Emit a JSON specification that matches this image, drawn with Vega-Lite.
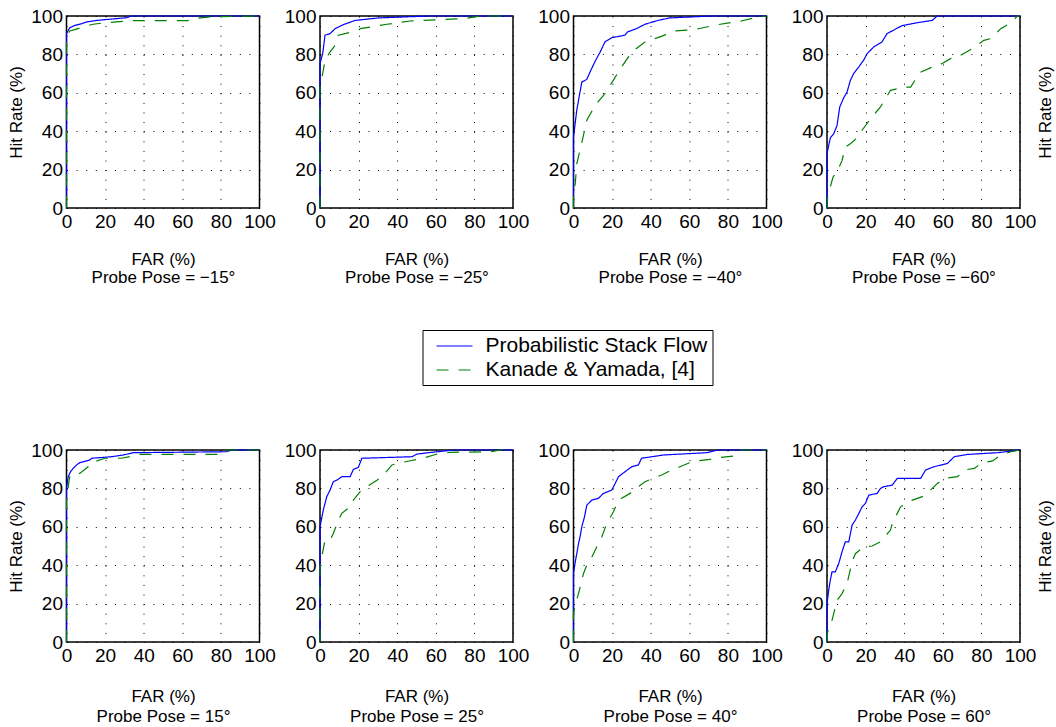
{
"$schema": "https://vega.github.io/schema/vega-lite/v6.json",
"background": "white",
"padding": {"left": 6.5, "top": 6, "right": 0, "bottom": 0},
"config": {
  "font": "Liberation Sans",
  "view": {"stroke": "#000", "strokeWidth": 1.5},
  "axis": {"labelFontSize": 19, "titleFontSize": 17, "titleFontWeight": "normal", "labelColor": "#000", "titleColor": "#000", "domain": false, "ticks": false, "grid": true, "gridColor": "#000", "gridDash": [1, 8.6], "gridWidth": 1, "labelPadding": 4, "labelFlush": false, "labelOverlap": false},
  "axisY": {"titlePadding": 5},
  "axisX": {"titlePadding": 20}
},
"datasets": {
  "methods": [{"m": "P", "method": "Probabilistic Stack Flow"}, {"m": "K", "method": "Kanade & Yamada, [4]"}],
  "roc": [
{"p":-15,"m":"P","far":0,"hit":0},{"p":-15,"m":"P","far":0,"hit":90.8},{"p":-15,"m":"P","far":0.9,"hit":92.5},{"p":-15,"m":"P","far":1.7,"hit":93.9},{"p":-15,"m":"P","far":4.3,"hit":95.1},{"p":-15,"m":"P","far":7.8,"hit":96},{"p":-15,"m":"P","far":10.4,"hit":96.9},{"p":-15,"m":"P","far":15.6,"hit":97.7},{"p":-15,"m":"P","far":31,"hit":99.1},{"p":-15,"m":"P","far":33.7,"hit":100},{"p":-15,"m":"P","far":100,"hit":100},
{"p":-15,"m":"K","far":0,"hit":0},{"p":-15,"m":"K","far":0,"hit":89},{"p":-15,"m":"K","far":1.7,"hit":92.2},{"p":-15,"m":"K","far":4.3,"hit":92.9},{"p":-15,"m":"K","far":9.5,"hit":94.6},{"p":-15,"m":"K","far":13.8,"hit":95.7},{"p":-15,"m":"K","far":19.9,"hit":96.5},{"p":-15,"m":"K","far":34.6,"hit":97.6},{"p":-15,"m":"K","far":63,"hit":97.6},{"p":-15,"m":"K","far":65,"hit":98.6},{"p":-15,"m":"K","far":75,"hit":99.6},{"p":-15,"m":"K","far":100,"hit":100},
{"p":-25,"m":"P","far":0,"hit":0},{"p":-25,"m":"P","far":0,"hit":75.2},{"p":-25,"m":"P","far":1.4,"hit":80.4},{"p":-25,"m":"P","far":2.6,"hit":90},{"p":-25,"m":"P","far":5.2,"hit":90.8},{"p":-25,"m":"P","far":7.8,"hit":93.4},{"p":-25,"m":"P","far":12.1,"hit":95.5},{"p":-25,"m":"P","far":18.2,"hit":97.7},{"p":-25,"m":"P","far":30.3,"hit":99},{"p":-25,"m":"P","far":56.3,"hit":100},{"p":-25,"m":"P","far":100,"hit":100},
{"p":-25,"m":"K","far":0,"hit":0},{"p":-25,"m":"K","far":0,"hit":63},{"p":-25,"m":"K","far":1.7,"hit":71.7},{"p":-25,"m":"K","far":2.6,"hit":77},{"p":-25,"m":"K","far":5.2,"hit":81.3},{"p":-25,"m":"K","far":7.8,"hit":84.7},{"p":-25,"m":"K","far":9.5,"hit":90},{"p":-25,"m":"K","far":19.9,"hit":92.5},{"p":-25,"m":"K","far":20.8,"hit":93.4},{"p":-25,"m":"K","far":34.7,"hit":95.7},{"p":-25,"m":"K","far":46.8,"hit":97.4},{"p":-25,"m":"K","far":74.5,"hit":98.6},{"p":-25,"m":"K","far":83.2,"hit":100},{"p":-25,"m":"K","far":100,"hit":100},
{"p":-40,"m":"P","far":0,"hit":0},{"p":-40,"m":"P","far":0,"hit":37},{"p":-40,"m":"P","far":1.7,"hit":51},{"p":-40,"m":"P","far":4.3,"hit":65.6},{"p":-40,"m":"P","far":6.9,"hit":67},{"p":-40,"m":"P","far":9.1,"hit":72},{"p":-40,"m":"P","far":11.5,"hit":77},{"p":-40,"m":"P","far":13.7,"hit":81},{"p":-40,"m":"P","far":16.3,"hit":86.5},{"p":-40,"m":"P","far":19.8,"hit":88.7},{"p":-40,"m":"P","far":26.6,"hit":90},{"p":-40,"m":"P","far":28,"hit":91.7},{"p":-40,"m":"P","far":32.6,"hit":93.4},{"p":-40,"m":"P","far":37,"hit":95.7},{"p":-40,"m":"P","far":43.8,"hit":97.7},{"p":-40,"m":"P","far":49.8,"hit":99},{"p":-40,"m":"P","far":71.3,"hit":100},{"p":-40,"m":"P","far":100,"hit":100},
{"p":-40,"m":"K","far":0,"hit":0},{"p":-40,"m":"K","far":0,"hit":8},{"p":-40,"m":"K","far":0.9,"hit":12.7},{"p":-40,"m":"K","far":1.7,"hit":23},{"p":-40,"m":"K","far":4.3,"hit":34},{"p":-40,"m":"K","far":6.9,"hit":45.7},{"p":-40,"m":"K","far":11.2,"hit":53.5},{"p":-40,"m":"K","far":16.3,"hit":59.5},{"p":-40,"m":"K","far":20.6,"hit":66.5},{"p":-40,"m":"K","far":24.9,"hit":73.4},{"p":-40,"m":"K","far":30,"hit":81},{"p":-40,"m":"K","far":37,"hit":86.5},{"p":-40,"m":"K","far":45.5,"hit":89.4},{"p":-40,"m":"K","far":52,"hit":92.2},{"p":-40,"m":"K","far":62.5,"hit":92.9},{"p":-40,"m":"K","far":74.7,"hit":95.5},{"p":-40,"m":"K","far":86.9,"hit":97.4},{"p":-40,"m":"K","far":93.6,"hit":99},{"p":-40,"m":"K","far":100,"hit":100},
{"p":-60,"m":"P","far":0,"hit":0},{"p":-60,"m":"P","far":0,"hit":28.3},{"p":-60,"m":"P","far":1.7,"hit":36.5},{"p":-60,"m":"P","far":3.5,"hit":38.7},{"p":-60,"m":"P","far":5.2,"hit":43},{"p":-60,"m":"P","far":6.6,"hit":52.6},{"p":-60,"m":"P","far":8.7,"hit":57.5},{"p":-60,"m":"P","far":10.4,"hit":60.4},{"p":-60,"m":"P","far":12.1,"hit":66.5},{"p":-60,"m":"P","far":13.8,"hit":70},{"p":-60,"m":"P","far":16.4,"hit":73.4},{"p":-60,"m":"P","far":19,"hit":77},{"p":-60,"m":"P","far":20.8,"hit":80.4},{"p":-60,"m":"P","far":24.2,"hit":83.9},{"p":-60,"m":"P","far":28.5,"hit":86.5},{"p":-60,"m":"P","far":31.1,"hit":90.8},{"p":-60,"m":"P","far":38.9,"hit":95},{"p":-60,"m":"P","far":46.7,"hit":96.5},{"p":-60,"m":"P","far":54.5,"hit":97.7},{"p":-60,"m":"P","far":57.1,"hit":100},{"p":-60,"m":"P","far":100,"hit":100},
{"p":-60,"m":"K","far":0,"hit":0},{"p":-60,"m":"K","far":0.3,"hit":5.7},{"p":-60,"m":"K","far":1.7,"hit":11},{"p":-60,"m":"K","far":3.1,"hit":16},{"p":-60,"m":"K","far":6,"hit":20.5},{"p":-60,"m":"K","far":7.8,"hit":24.8},{"p":-60,"m":"K","far":9.5,"hit":31.8},{"p":-60,"m":"K","far":12.1,"hit":33.5},{"p":-60,"m":"K","far":15.6,"hit":36.5},{"p":-60,"m":"K","far":18.2,"hit":40.5},{"p":-60,"m":"K","far":22.5,"hit":46.5},{"p":-60,"m":"K","far":27.7,"hit":52.6},{"p":-60,"m":"K","far":32.9,"hit":61.3},{"p":-60,"m":"K","far":39.8,"hit":63},{"p":-60,"m":"K","far":43.3,"hit":63},{"p":-60,"m":"K","far":48.4,"hit":70.7},{"p":-60,"m":"K","far":54.5,"hit":73.4},{"p":-60,"m":"K","far":58,"hit":74.3},{"p":-60,"m":"K","far":64,"hit":77.8},{"p":-60,"m":"K","far":67.5,"hit":78.6},{"p":-60,"m":"K","far":75.3,"hit":83},{"p":-60,"m":"K","far":81.3,"hit":87.3},{"p":-60,"m":"K","far":84.8,"hit":88.2},{"p":-60,"m":"K","far":90,"hit":93.4},{"p":-60,"m":"K","far":96,"hit":96.9},{"p":-60,"m":"K","far":98.6,"hit":100},{"p":-60,"m":"K","far":100,"hit":100},
{"p":15,"m":"P","far":0,"hit":0},{"p":15,"m":"P","far":0,"hit":80},{"p":15,"m":"P","far":0.9,"hit":86.1},{"p":15,"m":"P","far":2.1,"hit":88.7},{"p":15,"m":"P","far":3.5,"hit":90.5},{"p":15,"m":"P","far":5.2,"hit":92.2},{"p":15,"m":"P","far":6.9,"hit":93.4},{"p":15,"m":"P","far":12.1,"hit":94.8},{"p":15,"m":"P","far":13,"hit":95.7},{"p":15,"m":"P","far":23.4,"hit":96.5},{"p":15,"m":"P","far":29.4,"hit":97.4},{"p":15,"m":"P","far":34.6,"hit":98.6},{"p":15,"m":"P","far":83,"hit":99.1},{"p":15,"m":"P","far":85.6,"hit":100},{"p":15,"m":"P","far":100,"hit":100},
{"p":15,"m":"K","far":0,"hit":0},{"p":15,"m":"K","far":0,"hit":74.8},{"p":15,"m":"K","far":0.9,"hit":80.9},{"p":15,"m":"K","far":1.7,"hit":86.5},{"p":15,"m":"K","far":4.3,"hit":87.8},{"p":15,"m":"K","far":6.9,"hit":87.8},{"p":15,"m":"K","far":11.2,"hit":91.3},{"p":15,"m":"K","far":13,"hit":93.4},{"p":15,"m":"K","far":19.9,"hit":95.7},{"p":15,"m":"K","far":28.5,"hit":95.7},{"p":15,"m":"K","far":34.6,"hit":96.9},{"p":15,"m":"K","far":37.2,"hit":97.7},{"p":15,"m":"K","far":81.3,"hit":97.7},{"p":15,"m":"K","far":83.9,"hit":100},{"p":15,"m":"K","far":100,"hit":100},
{"p":25,"m":"P","far":0,"hit":0},{"p":25,"m":"P","far":0,"hit":60},{"p":25,"m":"P","far":1.7,"hit":68.7},{"p":25,"m":"P","far":3.5,"hit":75.7},{"p":25,"m":"P","far":5.2,"hit":79.1},{"p":25,"m":"P","far":6.9,"hit":83.5},{"p":25,"m":"P","far":8.7,"hit":84.3},{"p":25,"m":"P","far":11.3,"hit":86.1},{"p":25,"m":"P","far":15.6,"hit":86.1},{"p":25,"m":"P","far":17.3,"hit":89.9},{"p":25,"m":"P","far":19.9,"hit":91},{"p":25,"m":"P","far":21.7,"hit":95.7},{"p":25,"m":"P","far":47.7,"hit":96.5},{"p":25,"m":"P","far":50.3,"hit":97.9},{"p":25,"m":"P","far":56.3,"hit":98.6},{"p":25,"m":"P","far":69.3,"hit":100},{"p":25,"m":"P","far":100,"hit":100},
{"p":25,"m":"K","far":0,"hit":0},{"p":25,"m":"K","far":0,"hit":39},{"p":25,"m":"K","far":0.9,"hit":44.3},{"p":25,"m":"K","far":2.6,"hit":53},{"p":25,"m":"K","far":5.2,"hit":53},{"p":25,"m":"K","far":6.9,"hit":56.5},{"p":25,"m":"K","far":9.5,"hit":63.5},{"p":25,"m":"K","far":11.3,"hit":67},{"p":25,"m":"K","far":15.6,"hit":70.4},{"p":25,"m":"K","far":17.3,"hit":73.9},{"p":25,"m":"K","far":20.8,"hit":78.3},{"p":25,"m":"K","far":24.3,"hit":80.9},{"p":25,"m":"K","far":29.5,"hit":84.3},{"p":25,"m":"K","far":32.1,"hit":86.1},{"p":25,"m":"K","far":37.3,"hit":92.2},{"p":25,"m":"K","far":39.9,"hit":93},{"p":25,"m":"K","far":46.8,"hit":94.4},{"p":25,"m":"K","far":53.7,"hit":95.8},{"p":25,"m":"K","far":60.7,"hit":97.9},{"p":25,"m":"K","far":67.6,"hit":98.8},{"p":25,"m":"K","far":88.4,"hit":99.1},{"p":25,"m":"K","far":93.6,"hit":100},{"p":25,"m":"K","far":100,"hit":100},
{"p":40,"m":"P","far":0,"hit":0},{"p":40,"m":"P","far":0,"hit":35.7},{"p":40,"m":"P","far":0.9,"hit":41.7},{"p":40,"m":"P","far":1.7,"hit":46},{"p":40,"m":"P","far":2.6,"hit":51.3},{"p":40,"m":"P","far":3.4,"hit":54.8},{"p":40,"m":"P","far":4.3,"hit":60},{"p":40,"m":"P","far":5.7,"hit":65.2},{"p":40,"m":"P","far":6.9,"hit":71.3},{"p":40,"m":"P","far":9.5,"hit":73.9},{"p":40,"m":"P","far":12.9,"hit":74.8},{"p":40,"m":"P","far":15.5,"hit":77.4},{"p":40,"m":"P","far":19.8,"hit":79.1},{"p":40,"m":"P","far":21.6,"hit":82.6},{"p":40,"m":"P","far":23.3,"hit":86.1},{"p":40,"m":"P","far":26.7,"hit":88.7},{"p":40,"m":"P","far":30.2,"hit":91.3},{"p":40,"m":"P","far":33.6,"hit":92.2},{"p":40,"m":"P","far":35.3,"hit":95.7},{"p":40,"m":"P","far":46.6,"hit":97.4},{"p":40,"m":"P","far":69,"hit":98.6},{"p":40,"m":"P","far":75,"hit":100},{"p":40,"m":"P","far":100,"hit":100},
{"p":40,"m":"K","far":0,"hit":0},{"p":40,"m":"K","far":0,"hit":14.8},{"p":40,"m":"K","far":0.9,"hit":19.6},{"p":40,"m":"K","far":2.6,"hit":25.2},{"p":40,"m":"K","far":5.2,"hit":35.7},{"p":40,"m":"K","far":6.9,"hit":40},{"p":40,"m":"K","far":9.5,"hit":44.3},{"p":40,"m":"K","far":12.1,"hit":49.6},{"p":40,"m":"K","far":14.7,"hit":54.8},{"p":40,"m":"K","far":17.2,"hit":61.7},{"p":40,"m":"K","far":20.7,"hit":67.8},{"p":40,"m":"K","far":23.3,"hit":73.9},{"p":40,"m":"K","far":29.3,"hit":77.4},{"p":40,"m":"K","far":33.6,"hit":80.9},{"p":40,"m":"K","far":37.1,"hit":83.5},{"p":40,"m":"K","far":45.7,"hit":87},{"p":40,"m":"K","far":50.9,"hit":89.6},{"p":40,"m":"K","far":55.2,"hit":91.3},{"p":40,"m":"K","far":60.3,"hit":93.4},{"p":40,"m":"K","far":64.7,"hit":94.4},{"p":40,"m":"K","far":70.7,"hit":95.1},{"p":40,"m":"K","far":75,"hit":96},{"p":40,"m":"K","far":83.6,"hit":96.9},{"p":40,"m":"K","far":86.2,"hit":100},{"p":40,"m":"K","far":100,"hit":100},
{"p":60,"m":"P","far":0,"hit":0},{"p":60,"m":"P","far":0,"hit":20},{"p":60,"m":"P","far":0.9,"hit":27},{"p":60,"m":"P","far":1.7,"hit":32.2},{"p":60,"m":"P","far":2.6,"hit":36.5},{"p":60,"m":"P","far":4.3,"hit":36.5},{"p":60,"m":"P","far":6.1,"hit":40.9},{"p":60,"m":"P","far":7.8,"hit":47},{"p":60,"m":"P","far":9.5,"hit":52.2},{"p":60,"m":"P","far":11.3,"hit":52.2},{"p":60,"m":"P","far":13,"hit":60.9},{"p":60,"m":"P","far":14.7,"hit":63.5},{"p":60,"m":"P","far":16.5,"hit":67},{"p":60,"m":"P","far":18.2,"hit":70.4},{"p":60,"m":"P","far":19.9,"hit":72.2},{"p":60,"m":"P","far":21.7,"hit":76.5},{"p":60,"m":"P","far":26,"hit":77.4},{"p":60,"m":"P","far":27.7,"hit":80},{"p":60,"m":"P","far":29.5,"hit":80.9},{"p":60,"m":"P","far":33.8,"hit":81.7},{"p":60,"m":"P","far":36.4,"hit":85.2},{"p":60,"m":"P","far":48.5,"hit":85.2},{"p":60,"m":"P","far":51.1,"hit":89.6},{"p":60,"m":"P","far":55.5,"hit":91.3},{"p":60,"m":"P","far":62.4,"hit":93},{"p":60,"m":"P","far":65.9,"hit":96.5},{"p":60,"m":"P","far":72.8,"hit":97.7},{"p":60,"m":"P","far":88.4,"hit":98.6},{"p":60,"m":"P","far":96.2,"hit":99.5},{"p":60,"m":"P","far":98.8,"hit":100},{"p":60,"m":"P","far":100,"hit":100},
{"p":60,"m":"K","far":0,"hit":0},{"p":60,"m":"K","far":0.3,"hit":5.2},{"p":60,"m":"K","far":2.6,"hit":11.3},{"p":60,"m":"K","far":5.2,"hit":21.7},{"p":60,"m":"K","far":7.8,"hit":25.2},{"p":60,"m":"K","far":10.4,"hit":30.4},{"p":60,"m":"K","far":13,"hit":41.7},{"p":60,"m":"K","far":14.7,"hit":46},{"p":60,"m":"K","far":19.1,"hit":49.6},{"p":60,"m":"K","far":23.4,"hit":50},{"p":60,"m":"K","far":27.7,"hit":52.2},{"p":60,"m":"K","far":32.9,"hit":58.3},{"p":60,"m":"K","far":33.8,"hit":61.7},{"p":60,"m":"K","far":38.1,"hit":70.4},{"p":60,"m":"K","far":44.2,"hit":73.9},{"p":60,"m":"K","far":49.4,"hit":75.7},{"p":60,"m":"K","far":54.6,"hit":80},{"p":60,"m":"K","far":57.2,"hit":82.6},{"p":60,"m":"K","far":60.7,"hit":85.2},{"p":60,"m":"K","far":67.6,"hit":86.1},{"p":60,"m":"K","far":71.1,"hit":89.6},{"p":60,"m":"K","far":76.3,"hit":90.4},{"p":60,"m":"K","far":80.6,"hit":93.4},{"p":60,"m":"K","far":85.8,"hit":94.3},{"p":60,"m":"K","far":90.1,"hit":97.4},{"p":60,"m":"K","far":95.3,"hit":99.1},{"p":60,"m":"K","far":99.7,"hit":100},{"p":60,"m":"K","far":100,"hit":100}
  ]
},
"spacing": 434,
"bounds": "flush",
"vconcat": [
 {"hconcat": [
  {"width":193,"height":192,"data":{"name":"roc"},"transform":[{"filter":"datum.p == -15"},{"lookup":"m","from":{"data":{"name":"methods"},"key":"m","fields":["method"]}}],
   "mark":{"type":"line","strokeWidth":1.2},
   "encoding":{
    "x":{"field":"far","type":"quantitative","scale":{"domain":[0,100],"nice":false},"axis":{"values":[0,20,40,60,80,100],"title":["FAR (%)","Probe Pose = −15°"],"titleLineHeight":18}},
    "y":{"field":"hit","type":"quantitative","scale":{"domain":[0,100],"nice":false},"axis":{"values":[0,20,40,60,80,100],"title":"Hit Rate (%)"}},
    "color":{"field":"method","type":"nominal","scale":{"domain":["Probabilistic Stack Flow","Kanade & Yamada, [4]"],"range":["#0000ff","#008000"]},"legend":{"title":null,"orient":"none","legendX":356,"legendY":314,"symbolType":"M-0.2,0H3.4","symbolSize":400,"symbolStrokeWidth":1.2,"labelFontSize":21,"labelOffset":36,"padding":5,"rowPadding":3,"strokeColor":"#000","fillColor":"#fff","labelColor":"#000","labelLimit":400}},
    "strokeDash":{"field":"method","type":"nominal","scale":{"domain":["Probabilistic Stack Flow","Kanade & Yamada, [4]"],"range":[[1,0],[12,10]]},"legend":{"title":null,"orient":"none","legendX":356,"legendY":314,"symbolType":"M-0.2,0H3.4","symbolSize":400,"symbolStrokeWidth":1.2,"labelFontSize":21,"labelOffset":36,"padding":5,"rowPadding":3,"strokeColor":"#000","fillColor":"#fff","labelColor":"#000","labelLimit":400}},
    "order":{"value":null}}},
  {"width":193,"height":192,"data":{"name":"roc"},"transform":[{"filter":"datum.p == -25"},{"lookup":"m","from":{"data":{"name":"methods"},"key":"m","fields":["method"]}}],
   "mark":{"type":"line","strokeWidth":1.2},
   "encoding":{
    "x":{"field":"far","type":"quantitative","scale":{"domain":[0,100],"nice":false},"axis":{"values":[0,20,40,60,80,100],"title":["FAR (%)","Probe Pose = −25°"],"titleLineHeight":18}},
    "y":{"field":"hit","type":"quantitative","scale":{"domain":[0,100],"nice":false},"axis":{"values":[0,20,40,60,80,100],"title":null}},
    "color":{"field":"method","type":"nominal"},
    "strokeDash":{"field":"method","type":"nominal"},
    "order":{"value":null}}},
  {"width":193,"height":192,"data":{"name":"roc"},"transform":[{"filter":"datum.p == -40"},{"lookup":"m","from":{"data":{"name":"methods"},"key":"m","fields":["method"]}}],
   "mark":{"type":"line","strokeWidth":1.2},
   "encoding":{
    "x":{"field":"far","type":"quantitative","scale":{"domain":[0,100],"nice":false},"axis":{"values":[0,20,40,60,80,100],"title":["FAR (%)","Probe Pose = −40°"],"titleLineHeight":18}},
    "y":{"field":"hit","type":"quantitative","scale":{"domain":[0,100],"nice":false},"axis":{"values":[0,20,40,60,80,100],"title":null}},
    "color":{"field":"method","type":"nominal"},
    "strokeDash":{"field":"method","type":"nominal"},
    "order":{"value":null}}},
  {"width":193,"height":192,"data":{"name":"roc"},"transform":[{"filter":"datum.p == -60"},{"lookup":"m","from":{"data":{"name":"methods"},"key":"m","fields":["method"]}}],
   "layer":[
    {"mark":{"type":"line","strokeWidth":1.2},
     "encoding":{
      "x":{"field":"far","type":"quantitative","scale":{"domain":[0,100],"nice":false},"axis":{"values":[0,20,40,60,80,100],"title":["FAR (%)","Probe Pose = −60°"],"titleLineHeight":18}},
      "y":{"field":"hit","type":"quantitative","scale":{"domain":[0,100],"nice":false},"axis":{"values":[0,20,40,60,80,100],"title":null}},
      "color":{"field":"method","type":"nominal"},
      "strokeDash":{"field":"method","type":"nominal"},
      "order":{"value":null}}},
    {"mark":{"type":"line","opacity":0},
     "encoding":{
      "x":{"field":"far","type":"quantitative","scale":{"domain":[0,100],"nice":false},"axis":{"values":[0,20,40,60,80,100],"title":["FAR (%)","Probe Pose = −60°"],"titleLineHeight":18}},
      "y":{"field":"hit","type":"quantitative","scale":{"domain":[0,100],"nice":false},"axis":{"orient":"right","title":"Hit Rate (%)","labels":false,"ticks":false,"grid":false,"domain":false,"titlePadding":34,"titleAngle":270}},
      "order":{"value":null}}}
   ],
   "resolve":{"scale":{"y":"independent"}}}
 ], "spacing": 60.5, "bounds": "flush"},
 {"hconcat": [
  {"width":193,"height":192,"data":{"name":"roc"},"transform":[{"filter":"datum.p == 15"},{"lookup":"m","from":{"data":{"name":"methods"},"key":"m","fields":["method"]}}],
   "mark":{"type":"line","strokeWidth":1.2},
   "encoding":{
    "x":{"field":"far","type":"quantitative","scale":{"domain":[0,100],"nice":false},"axis":{"values":[0,20,40,60,80,100],"title":["FAR (%)","Probe Pose = 15°"],"titleLineHeight":20,"titlePadding":23}},
    "y":{"field":"hit","type":"quantitative","scale":{"domain":[0,100],"nice":false},"axis":{"values":[0,20,40,60,80,100],"title":"Hit Rate (%)"}},
    "color":{"field":"method","type":"nominal"},
    "strokeDash":{"field":"method","type":"nominal"},
    "order":{"value":null}}},
  {"width":193,"height":192,"data":{"name":"roc"},"transform":[{"filter":"datum.p == 25"},{"lookup":"m","from":{"data":{"name":"methods"},"key":"m","fields":["method"]}}],
   "mark":{"type":"line","strokeWidth":1.2},
   "encoding":{
    "x":{"field":"far","type":"quantitative","scale":{"domain":[0,100],"nice":false},"axis":{"values":[0,20,40,60,80,100],"title":["FAR (%)","Probe Pose = 25°"],"titleLineHeight":20,"titlePadding":23}},
    "y":{"field":"hit","type":"quantitative","scale":{"domain":[0,100],"nice":false},"axis":{"values":[0,20,40,60,80,100],"title":null}},
    "color":{"field":"method","type":"nominal"},
    "strokeDash":{"field":"method","type":"nominal"},
    "order":{"value":null}}},
  {"width":193,"height":192,"data":{"name":"roc"},"transform":[{"filter":"datum.p == 40"},{"lookup":"m","from":{"data":{"name":"methods"},"key":"m","fields":["method"]}}],
   "mark":{"type":"line","strokeWidth":1.2},
   "encoding":{
    "x":{"field":"far","type":"quantitative","scale":{"domain":[0,100],"nice":false},"axis":{"values":[0,20,40,60,80,100],"title":["FAR (%)","Probe Pose = 40°"],"titleLineHeight":20,"titlePadding":23}},
    "y":{"field":"hit","type":"quantitative","scale":{"domain":[0,100],"nice":false},"axis":{"values":[0,20,40,60,80,100],"title":null}},
    "color":{"field":"method","type":"nominal"},
    "strokeDash":{"field":"method","type":"nominal"},
    "order":{"value":null}}},
  {"width":193,"height":192,"data":{"name":"roc"},"transform":[{"filter":"datum.p == 60"},{"lookup":"m","from":{"data":{"name":"methods"},"key":"m","fields":["method"]}}],
   "layer":[
    {"mark":{"type":"line","strokeWidth":1.2},
     "encoding":{
      "x":{"field":"far","type":"quantitative","scale":{"domain":[0,100],"nice":false},"axis":{"values":[0,20,40,60,80,100],"title":["FAR (%)","Probe Pose = 60°"],"titleLineHeight":20,"titlePadding":23}},
      "y":{"field":"hit","type":"quantitative","scale":{"domain":[0,100],"nice":false},"axis":{"values":[0,20,40,60,80,100],"title":null}},
      "color":{"field":"method","type":"nominal"},
      "strokeDash":{"field":"method","type":"nominal"},
      "order":{"value":null}}},
    {"mark":{"type":"line","opacity":0},
     "encoding":{
      "x":{"field":"far","type":"quantitative","scale":{"domain":[0,100],"nice":false},"axis":{"values":[0,20,40,60,80,100],"title":["FAR (%)","Probe Pose = 60°"],"titleLineHeight":20,"titlePadding":23}},
      "y":{"field":"hit","type":"quantitative","scale":{"domain":[0,100],"nice":false},"axis":{"orient":"right","title":"Hit Rate (%)","labels":false,"ticks":false,"grid":false,"domain":false,"titlePadding":34,"titleAngle":270}},
      "order":{"value":null}}}
   ],
   "resolve":{"scale":{"y":"independent"}}}
 ], "spacing": 60.5, "bounds": "flush"}
]
}
